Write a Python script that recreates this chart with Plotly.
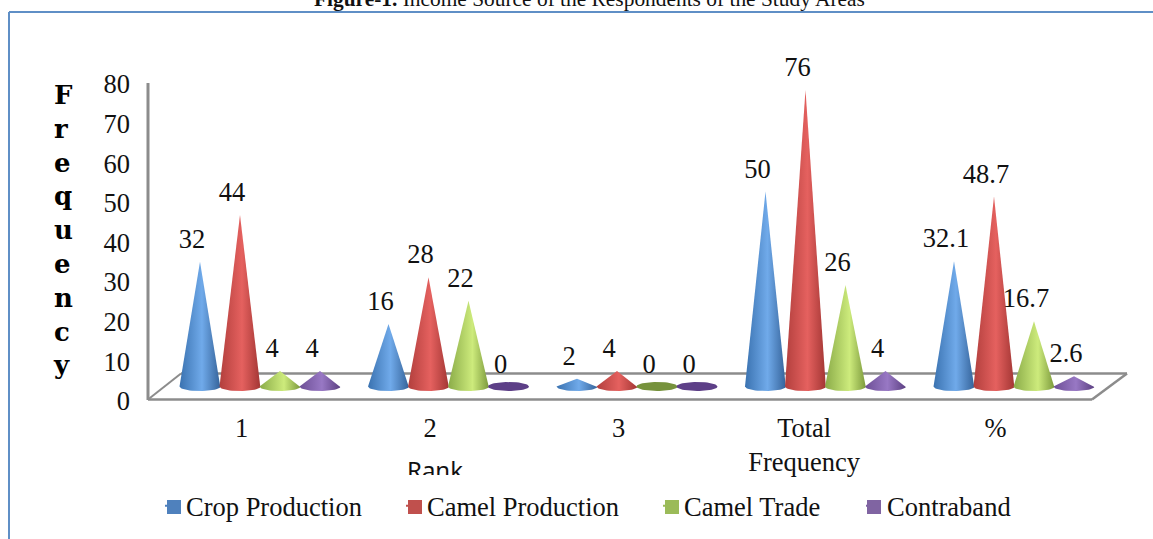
import plotly.graph_objects as go
import numpy as np

categories = ["1", "2", "3", "Total<br>Frequency", "%"]
crop_production = [32, 16, 2, 50, 32.1]
camel_production = [44, 28, 4, 76, 48.7]
camel_trade = [4, 22, 0, 26, 16.7]
contraband = [4, 0, 0, 4, 2.6]
y_ticks = [0, 10, 20, 30, 40, 50, 60, 70, 80]
series_names = ["Crop Production", "Camel Production", "Camel Trade", "Contraband"]

W, H = 1153, 539
PLOT_BOTTOM = 475
CAT_PX = 188.5
CAT0_PX = 241.5
TICK_ZERO, TICK_SCALE = 401, 3.9625
CONE_ZERO, CONE_SCALE = 386.5, 3.9
SERIF = "Liberation Serif"
FS = 26.5

series = [crop_production, camel_production, camel_trade, contraband]
legend_color = ["#4f81bd", "#c0504d", "#9bbb59", "#8064a2"]
disc_color = ["#3a6fa8", "#b5403e", "#76923c", "#5d3f87"]
gradients = [
    [[0, "#3a72b0"], [0.55, "#70aaea"], [1, "#35639a"]],
    [[0, "#b23f3d"], [0.55, "#e5615f"], [1, "#a33634"]],
    [[0, "#8aab48"], [0.6, "#cdeb7c"], [1, "#7c9a3c"]],
    [[0, "#6d4f96"], [0.55, "#9878c4"], [1, "#5c4082"]],
]
legend_x = [161, 402, 659, 862]
legend_swatch_x = [167, 408, 665, 867]

px_x = lambda p: (p - CAT0_PX) / CAT_PX
fx = lambda p: p / W
fy = lambda p: 1 - p / H

half_w = 20.5 / CAT_PX
half_h = 4.5 / CONE_SCALE
offsets = [(-41.5 + 40 * s) / CAT_PX for s in range(4)]
theta = np.linspace(0, np.pi, 25)

fig = go.Figure()

for s, vals in enumerate(series):
    for i, v in enumerate(vals):
        cx = i + offsets[s]
        arc_x = cx + half_w * np.cos(theta)
        arc_y = -half_h * np.sin(theta)
        if v > 0:
            xs = [cx] + list(arc_x) + [cx]
            ys = [v] + list(arc_y) + [v]
            style = dict(fillgradient=dict(type="horizontal", colorscale=gradients[s]))
        else:
            xs = list(arc_x) + list(arc_x[::-1])
            ys = list(arc_y) + list(-arc_y[::-1])
            style = dict(fillcolor=disc_color[s])
        fig.add_trace(go.Scatter(x=xs, y=ys, yaxis="y2", mode="lines", fill="toself",
                                 line=dict(width=0), hoverinfo="skip",
                                 showlegend=False, **style))

for s, vals in enumerate(series):
    fig.add_trace(go.Scatter(
        x=[i + offsets[s] - 8 / CAT_PX for i in range(len(vals))],
        y=[v + 20.5 / CONE_SCALE for v in vals],
        yaxis="y2", mode="text", text=[str(v) for v in vals],
        textposition="middle center",
        textfont=dict(family=SERIF, size=FS, color="#111111"),
        showlegend=False, hoverinfo="skip"))

for s, name in enumerate(series_names):
    key = "legend" if s == 0 else f"legend{s + 1}"
    fig.add_trace(go.Scatter(x=[None], y=[None], mode="markers", name=name, legend=key,
                             marker=dict(symbol="square", size=2, color=legend_color[s])))

# clipped axis caption, cut by the plot-area edge like the source
fig.add_trace(go.Scatter(x=[px_x(435)], y=[(TICK_ZERO - 473) / TICK_SCALE], mode="text",
                         text=["Rank"], textposition="middle center",
                         textfont=dict(family="Noto Sans", size=24, color="#111111"),
                         showlegend=False, hoverinfo="skip"))

GREY = "#8c8c8c"
def seg(x0, y0, x1, y1, color=GREY, width=2.5):
    return dict(type="line", xref="paper", yref="paper", layer="below",
                x0=fx(x0), y0=fy(y0), x1=fx(x1), y1=fy(y1),
                line=dict(color=color, width=width))

shapes = [
    seg(9, 539, 9, 12, "#5f8fc6", 2),
    seg(9, 12, 1153, 12, "#5f8fc6", 2),
    seg(148, 83, 148, 400, GREY, 3),
    seg(148, 399.5, 1092, 399.5),
    seg(181, 373.5, 1127, 373.5),
    seg(148, 399.5, 181, 373.5, GREY, 2),
    seg(1092, 399.5, 1127, 373.5),
]
for s in range(4):
    shapes.append(dict(type="rect", xref="paper", yref="paper", layer="above",
                       x0=fx(legend_swatch_x[s]), x1=fx(legend_swatch_x[s] + 14),
                       y0=fy(514), y1=fy(500), fillcolor=legend_color[s], line=dict(width=0)))

annotations = [
    dict(xref="paper", yref="paper", x=fx(589), y=fy(-1), xanchor="center", yanchor="middle",
         text="<b>Figure-1.</b> Income Source of the Respondents of the Study Areas",
         showarrow=False, font=dict(family=SERIF, size=21.4, color="#111111")),
    dict(xref="paper", yref="paper", x=fx(51), y=fy(230), xanchor="left", yanchor="middle",
         align="left", text="<br>".join(f"<b>{c}</b>" for c in "Frequency"), showarrow=False,
         font=dict(family="DejaVu Serif", size=26, color="#000000")),
]

layout = dict(
    width=W, height=H, margin=dict(l=0, r=0, t=0, b=0),
    paper_bgcolor="white", plot_bgcolor="rgba(0,0,0,0)",
    shapes=shapes, annotations=annotations,
    xaxis=dict(domain=[0, 1], range=[px_x(0), px_x(W)], anchor="free", position=fy(409),
               tickmode="array", tickvals=[0, 1, 2, 2.985, 4], ticktext=categories,
               tickfont=dict(family=SERIF, size=FS, color="#111111"),
               showgrid=False, zeroline=False, showline=False, ticks=""),
    yaxis=dict(domain=[fy(PLOT_BOTTOM), 1],
               range=[(TICK_ZERO - PLOT_BOTTOM) / TICK_SCALE, TICK_ZERO / TICK_SCALE],
               anchor="free", position=fx(130),
               tickmode="array", tickvals=y_ticks,
               tickfont=dict(family=SERIF, size=FS, color="#111111"),
               showgrid=False, zeroline=False, showline=False, ticks=""),
    yaxis2=dict(domain=[fy(PLOT_BOTTOM), 1], overlaying="y", anchor="x", side="right",
                range=[(CONE_ZERO - PLOT_BOTTOM) / CONE_SCALE, CONE_ZERO / CONE_SCALE],
                visible=False, showgrid=False, zeroline=False),
)
for s in range(4):
    key = "legend" if s == 0 else f"legend{s + 1}"
    layout[key] = dict(x=fx(legend_x[s]), y=fy(506), xanchor="left", yanchor="middle",
                       orientation="h", bgcolor="rgba(0,0,0,0)", indentation=-15,
                       itemsizing="trace",
                       font=dict(family=SERIF, size=FS, color="#111111"))
fig.update_layout(**layout)
fig.write_html("out.html", post_script="document.body.style.margin='0';",
               config=dict(displayModeBar=False))
